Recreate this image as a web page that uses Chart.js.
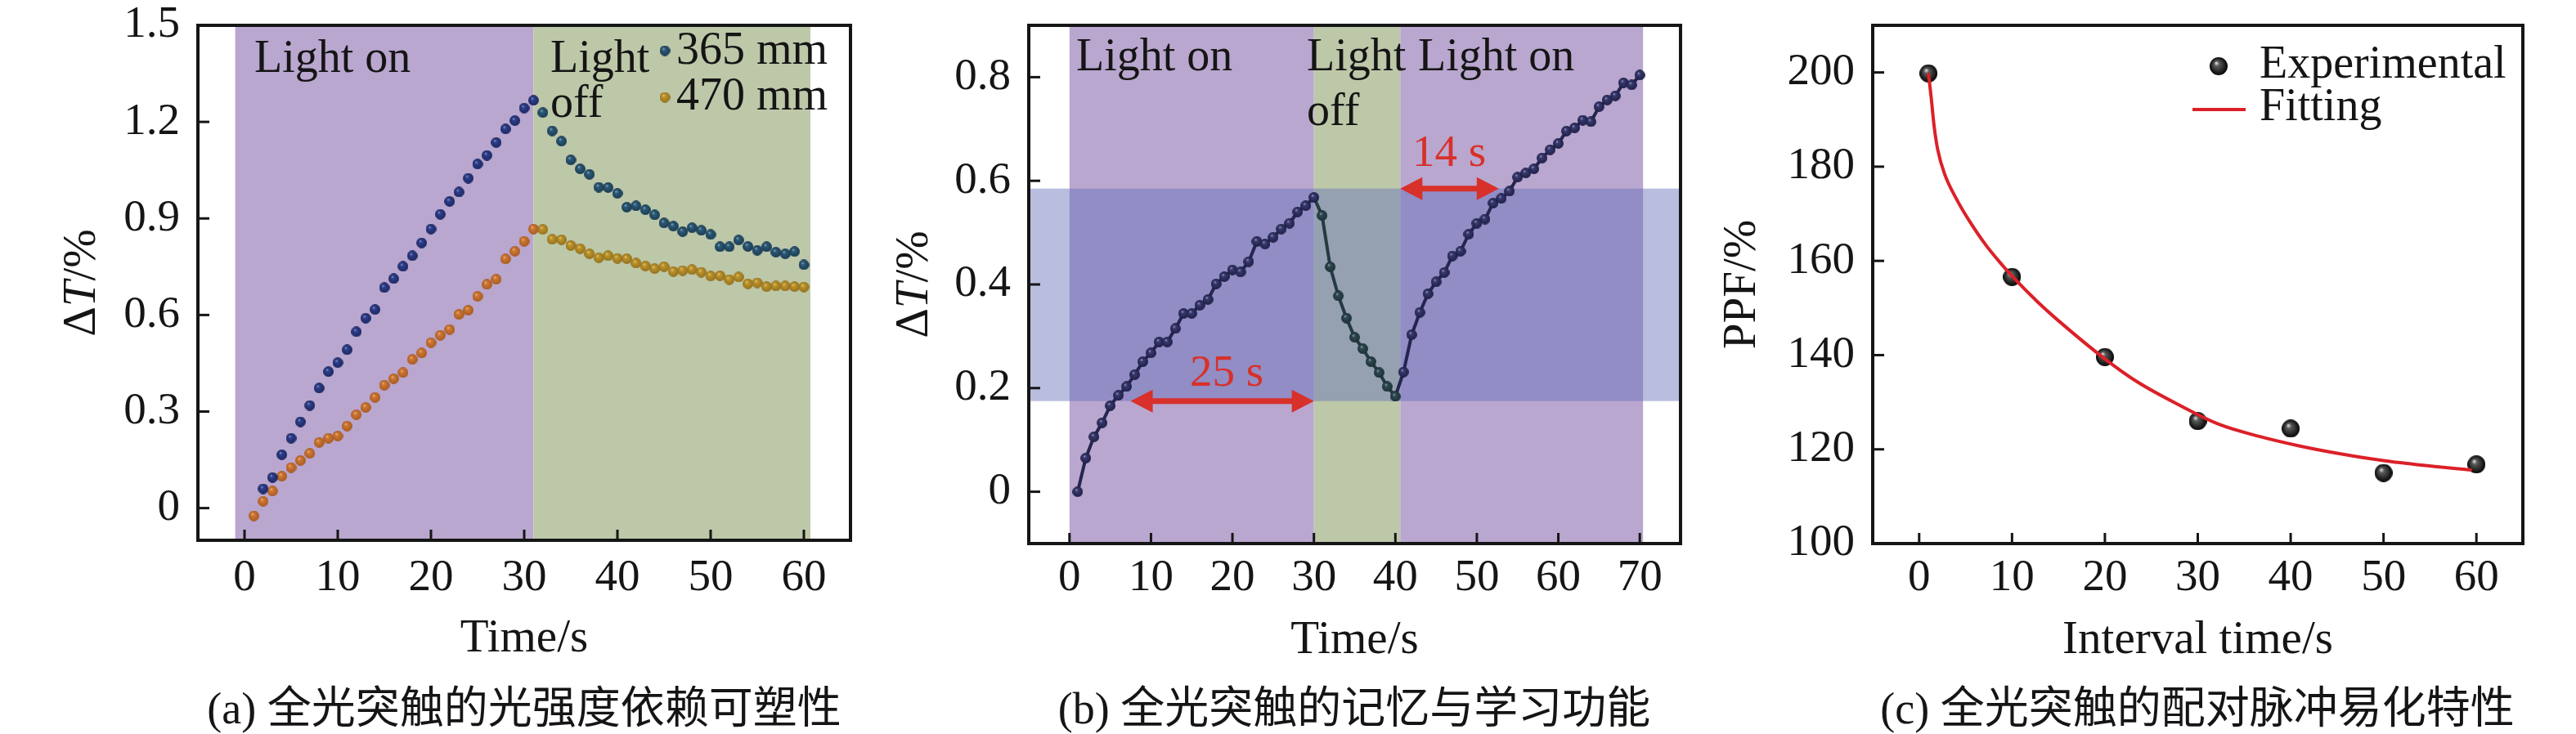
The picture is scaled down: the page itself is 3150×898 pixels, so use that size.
<!DOCTYPE html>
<html>
<head>
<meta charset="utf-8">
<style>
  html, body { margin: 0; padding: 0; background: #fff; }
  #wrap { position: relative; width: 3150px; height: 898px; }
  #wrap canvas { position: absolute; top: 0; }
</style>
<script src="https://cdn.jsdelivr.net/npm/chart.js@4.4.1/dist/chart.umd.min.js"></script>
</head>
<body>
<div id="wrap">
  <canvas id="chartA" width="1050" height="898" style="left:0px"></canvas>
  <canvas id="chartB" width="1050" height="898" style="left:1050px"></canvas>
  <canvas id="chartC" width="1050" height="898" style="left:2100px"></canvas>
</div>
<script>
// ---- panel (a): light intensity dependent plasticity ----
const time365 = [2, 3, 4, 5, 6, 7, 8, 9, 10, 11, 12, 13, 14, 15, 16, 17, 18, 19, 20, 21,
  22, 23, 24, 25, 26, 27, 28, 29, 30, 31, 32, 33, 34, 35, 36, 37, 38, 39, 40, 41,
  42, 43, 44, 45, 46, 47, 48, 49, 50, 51, 52, 53, 54, 55, 56, 57, 58, 59, 60];
const dT365 = [0.06, 0.095, 0.166, 0.217, 0.268, 0.319, 0.373, 0.424, 0.452, 0.492,
  0.548, 0.590, 0.617, 0.685, 0.713, 0.751, 0.784, 0.824, 0.867, 0.913,
  0.953, 0.982, 1.025, 1.069, 1.096, 1.136, 1.178, 1.204, 1.243, 1.267,
  1.229, 1.172, 1.140, 1.082, 1.054, 1.037, 0.997, 0.996, 0.978, 0.935,
  0.939, 0.927, 0.911, 0.886, 0.876, 0.859, 0.871, 0.863, 0.850, 0.812,
  0.812, 0.833, 0.813, 0.801, 0.812, 0.795, 0.790, 0.797, 0.756];
const time470 = [1, 2, 3, 4, 5, 6, 7, 8, 9, 10, 11, 12, 13, 14, 15, 16, 17, 18, 19, 20,
  21, 22, 23, 24, 25, 26, 27, 28, 29, 30, 31, 32, 33, 34, 35, 36, 37, 38, 39, 40,
  41, 42, 43, 44, 45, 46, 47, 48, 49, 50, 51, 52, 53, 54, 55, 56, 57, 58, 59, 60];
const dT470 = [-0.024, 0.021, 0.053, 0.099, 0.126, 0.148, 0.170, 0.204, 0.217, 0.224,
  0.255, 0.290, 0.313, 0.344, 0.382, 0.402, 0.421, 0.462, 0.482, 0.514,
  0.537, 0.555, 0.602, 0.615, 0.658, 0.695, 0.711, 0.774, 0.798, 0.829,
  0.867, 0.866, 0.835, 0.834, 0.816, 0.806, 0.790, 0.778, 0.784, 0.776,
  0.775, 0.761, 0.752, 0.744, 0.750, 0.735, 0.738, 0.741, 0.733, 0.721,
  0.722, 0.710, 0.718, 0.697, 0.700, 0.688, 0.690, 0.690, 0.688, 0.687];
const xTicksA = [0, 10, 20, 30, 40, 50, 60];
const yTicksA = [0, 0.3, 0.6, 0.9, 1.2, 1.5];

// ---- panel (b): memory and learning ----
const timeB = [1, 2, 3, 4, 5, 6, 7, 8, 9, 10, 11, 12, 13, 14, 15, 16, 17, 18, 19, 20,
  21, 22, 23, 24, 25, 26, 27, 28, 29, 30, 31, 32, 33, 34, 35, 36, 37, 38, 39, 40,
  41, 42, 43, 44, 45, 46, 47, 48, 49, 50, 51, 52, 53, 54, 55, 56, 57, 58, 59, 60,
  61, 62, 63, 64, 65, 66, 67, 68, 69, 70];
const dTB = [0.0, 0.065, 0.106, 0.133, 0.166, 0.186, 0.203, 0.226, 0.251, 0.268,
  0.289, 0.289, 0.315, 0.344, 0.344, 0.360, 0.371, 0.401, 0.415, 0.428,
  0.424, 0.444, 0.483, 0.478, 0.491, 0.507, 0.518, 0.540, 0.552, 0.568,
  0.533, 0.434, 0.378, 0.335, 0.298, 0.276, 0.251, 0.230, 0.203, 0.184,
  0.231, 0.303, 0.346, 0.382, 0.405, 0.423, 0.455, 0.464, 0.497, 0.518,
  0.526, 0.557, 0.566, 0.580, 0.607, 0.615, 0.623, 0.644, 0.660, 0.672,
  0.696, 0.702, 0.717, 0.714, 0.743, 0.756, 0.764, 0.789, 0.785, 0.804];
const xTicksB = [0, 10, 20, 30, 40, 50, 60, 70];
const yTicksB = [0, 0.2, 0.4, 0.6, 0.8];

// ---- panel (c): paired pulse facilitation ----
const intervalC = [1, 10, 20, 30, 40, 50, 60];
const ppfC = [199.8, 156.6, 139.6, 126.0, 124.4, 115.0, 116.8];
const fitX = [1, 1.3, 1.6, 2, 2.75, 4, 5.4, 7.2, 9, 10, 12.7, 15, 20, 23.5, 28, 32.3,
  36.7, 41, 45.5, 50, 54.3, 59.5];
const fitY = [199.8, 194.6, 188.8, 183.6, 178.4, 173.2, 168.5, 163.3, 159.0, 156.8,
  151.4, 147.3, 139.2, 134.3, 129.4, 125.3, 122.7, 120.7, 119.0, 117.6, 116.6, 115.6];
const xTicksC = [0, 10, 20, 30, 40, 50, 60];
const yTicksC = [100, 120, 140, 160, 180, 200];

const FONT = "'Liberation Serif', 'Times New Roman', 'Noto Sans CJK SC', serif";
const INK = '#151515';
const PURPLE = '#b9a7cf';
const GREEN = '#bdc8a9';
const RED = '#d8302a';

function pairs(xs, ys) {
  return xs.map((x, i) => ({ x: x, y: ys[i] }));
}

// small shaded sphere used as marker
function ball(r, hi, mid, edge) {
  const cv = document.createElement('canvas');
  const s = Math.ceil(r * 2);
  cv.width = s;
  cv.height = s;
  const g = cv.getContext('2d');
  const grd = g.createRadialGradient(r * 0.72, r * 0.62, 0, r, r, r);
  grd.addColorStop(0, hi);
  grd.addColorStop(0.28, mid);
  grd.addColorStop(1, edge);
  g.fillStyle = grd;
  g.beginPath();
  g.arc(r, r, r, 0, Math.PI * 2);
  g.fill();
  return cv;
}

const ballNavy = ball(6.5, '#9aa3d6', '#2f3f8c', '#1c2760');
const ballTeal = ball(6.5, '#9bbccc', '#2d5b78', '#1b3b52');
const ballOrange = ball(6.5, '#efbd8e', '#cf7934', '#a85a22');
const ballGold = ball(6.5, '#e6d08a', '#bf952c', '#93701c');
const ballDark = ball(6.5, '#a9a9d4', '#393a70', '#1e1f45');
const ballSlate = ball(6.5, '#9fb4bb', '#2f4a55', '#1c2f36');
const ballBlack = ball(11, '#f2f2f2', '#5a5a5a', '#050505');

function axisX(min, max, ticks, title, height, pad, titlePad) {
  return {
    type: 'linear', min: min, max: max,
    grid: { display: false, drawTicks: false },
    border: { display: false },
    afterBuildTicks: s => { s.ticks = ticks.map(v => ({ value: v })); },
    afterFit: s => { s.height = height; s.paddingLeft = 0; s.paddingRight = 0; },
    ticks: { font: { family: FONT, size: 55 }, color: INK, padding: pad,
      maxRotation: 0, autoSkip: false, callback: v => String(v) },
    title: { display: true, text: title, color: INK,
      font: { family: FONT, size: 57 }, padding: { top: 0, bottom: titlePad } }
  };
}

function axisY(min, max, ticks, width) {
  return {
    type: 'linear', min: min, max: max,
    grid: { display: false, drawTicks: false },
    border: { display: false },
    afterBuildTicks: s => { s.ticks = ticks.map(v => ({ value: v })); },
    afterFit: s => { s.width = width; s.paddingTop = 0; s.paddingBottom = 0; },
    ticks: { font: { family: FONT, size: 55 }, color: INK, padding: 22,
      autoSkip: false, callback: v => String(v) }
  };
}

function drawArrow(ctx, x0, x1, y) {
  const hl = 27, hw = 14;
  ctx.strokeStyle = RED;
  ctx.fillStyle = RED;
  ctx.lineWidth = 7;
  ctx.beginPath();
  ctx.moveTo(x0 + hl - 2, y);
  ctx.lineTo(x1 - hl + 2, y);
  ctx.stroke();
  ctx.beginPath();
  ctx.moveTo(x0, y); ctx.lineTo(x0 + hl, y - hw); ctx.lineTo(x0 + hl, y + hw); ctx.closePath();
  ctx.fill();
  ctx.beginPath();
  ctx.moveTo(x1, y); ctx.lineTo(x1 - hl, y - hw); ctx.lineTo(x1 - hl, y + hw); ctx.closePath();
  ctx.fill();
}

function decor(cfg) {
  return {
    id: 'decor',
    beforeDatasetsDraw(chart) {
      const { ctx, chartArea: a, scales: { x, y } } = chart;
      ctx.save();
      (cfg.shades || []).forEach(s => {
        const x0 = x.getPixelForValue(s.from), x1 = x.getPixelForValue(s.to);
        ctx.fillStyle = s.color;
        ctx.fillRect(x0, a.top, x1 - x0, a.bottom - a.top);
      });
      if (cfg.band) {
        const y0 = y.getPixelForValue(cfg.band.hi), y1 = y.getPixelForValue(cfg.band.lo);
        ctx.fillStyle = cfg.band.color;
        ctx.fillRect(a.left, y0, a.right - a.left, y1 - y0);
      }
      ctx.restore();
    },
    afterDatasetsDraw(chart) {
      const { ctx, chartArea: a, scales: { x, y } } = chart;
      ctx.save();
      // inward ticks
      ctx.strokeStyle = INK;
      ctx.lineWidth = 3;
      cfg.xTicks.forEach(v => {
        const px = x.getPixelForValue(v);
        ctx.beginPath(); ctx.moveTo(px, a.bottom); ctx.lineTo(px, a.bottom - 13); ctx.stroke();
      });
      cfg.yTicks.forEach(v => {
        const py = y.getPixelForValue(v);
        ctx.beginPath(); ctx.moveTo(a.left, py); ctx.lineTo(a.left + 14, py); ctx.stroke();
      });
      // frame
      ctx.lineWidth = 4;
      ctx.strokeRect(a.left, a.top, a.right - a.left, a.bottom - a.top);
      // arrows
      (cfg.arrows || []).forEach(ar => {
        drawArrow(ctx, x.getPixelForValue(ar.from), x.getPixelForValue(ar.to), y.getPixelForValue(ar.y));
      });
      // labels
      ctx.textBaseline = 'alphabetic';
      (cfg.texts || []).forEach(t => {
        ctx.font = (t.size || 56) + 'px ' + FONT;
        ctx.fillStyle = t.color || INK;
        ctx.textAlign = t.align || 'left';
        ctx.fillText(t.text, t.x, t.y);
      });
      (cfg.marks || []).forEach(m => {
        if (m.img) {
          ctx.drawImage(m.img, m.x - m.img.width / 2, m.y - m.img.height / 2);
        } else {
          ctx.strokeStyle = m.color;
          ctx.lineWidth = 4;
          ctx.beginPath(); ctx.moveTo(m.x, m.y); ctx.lineTo(m.x2, m.y); ctx.stroke();
        }
      });
      ctx.restore();
    },
    afterDraw(chart) {
      const ctx = chart.ctx;
      ctx.save();
      // rotated y title built from styled pieces
      ctx.translate(cfg.yTitle.x, cfg.yTitle.y);
      ctx.rotate(-Math.PI / 2);
      ctx.textBaseline = 'middle';
      ctx.textAlign = 'left';
      ctx.fillStyle = INK;
      const parts = cfg.yTitle.parts;
      let total = 0;
      parts.forEach(p => { ctx.font = p.style + ' 57px ' + FONT; p.w = ctx.measureText(p.text).width; total += p.w; });
      let cx = -total / 2;
      parts.forEach(p => { ctx.font = p.style + ' 57px ' + FONT; ctx.fillText(p.text, cx, 0); cx += p.w; });
      ctx.restore();
      // caption
      ctx.save();
      ctx.font = '54px ' + FONT;
      ctx.fillStyle = INK;
      ctx.textAlign = 'center';
      ctx.textBaseline = 'middle';
      ctx.fillText(cfg.caption.text, cfg.caption.x, cfg.caption.y);
      ctx.restore();
    }
  };
}

const common = {
  responsive: false,
  animation: false,
  devicePixelRatio: 1,
  plugins: { legend: { display: false }, tooltip: { enabled: false } }
};

// ---------- chart (a) ----------
new Chart(document.getElementById('chartA'), {
  type: 'scatter',
  data: {
    datasets: [
      {
        label: '365 mm',
        data: pairs(time365, dT365),
        pointRadius: 6.5,
        pointStyle: c => (c.raw && c.raw.x > 31 ? ballTeal : ballNavy)
      },
      {
        label: '470 mm',
        data: pairs(time470, dT470),
        pointRadius: 6.5,
        pointStyle: c => (c.raw && c.raw.x > 31 ? ballGold : ballOrange)
      }
    ]
  },
  options: Object.assign({}, common, {
    layout: { padding: { left: 0, right: 10, top: 31, bottom: 0 } },
    scales: {
      x: axisX(-5, 65, xTicksA, 'Time/s', 237, 14, 82),
      y: axisY(-0.1, 1.5, yTicksA, 242)
    }
  }),
  plugins: [decor({
    shades: [{ from: -1, to: 31, color: PURPLE }, { from: 31, to: 60.7, color: GREEN }],
    xTicks: xTicksA,
    yTicks: yTicksA,
    texts: [
      { text: 'Light on', x: 311, y: 88 },
      { text: 'Light', x: 673, y: 88 },
      { text: 'off', x: 673, y: 143 },
      { text: '365 mm', x: 827, y: 78 },
      { text: '470 mm', x: 827, y: 134 }
    ],
    marks: [{ img: ballTeal, x: 813, y: 62 }, { img: ballGold, x: 813, y: 119 }],
    yTitle: { x: 101, y: 346, parts: [{ text: 'Δ', style: 'normal' }, { text: 'T', style: 'italic' }, { text: '/%', style: 'normal' }] },
    caption: { text: '(a) 全光突触的光强度依赖可塑性', x: 641, y: 871 }
  })]
});

// ---------- chart (b) ----------
new Chart(document.getElementById('chartB'), {
  type: 'line',
  data: {
    datasets: [{
      label: 'ΔT',
      data: pairs(timeB, dTB),
      borderColor: '#25264f',
      borderWidth: 4,
      tension: 0,
      pointRadius: 6.5,
      pointStyle: c => (c.raw && c.raw.x > 30 && c.raw.x < 40.6 ? ballSlate : ballDark),
      segment: {
        borderColor: c => (c.p0.parsed.x >= 30 && c.p1.parsed.x <= 40 ? '#253a42' : '#25264f')
      }
    }]
  },
  options: Object.assign({}, common, {
    layout: { padding: { left: 0, right: 45, top: 31, bottom: 0 } },
    scales: {
      x: axisX(-5, 75, xTicksB, 'Time/s', 233, 10, 80),
      y: axisY(-0.1, 0.9, yTicksB, 208)
    }
  }),
  plugins: [decor({
    shades: [
      { from: 0, to: 30, color: PURPLE },
      { from: 30, to: 40.6, color: GREEN },
      { from: 40.6, to: 70.4, color: PURPLE }
    ],
    band: { lo: 0.175, hi: 0.585, color: 'rgba(100,110,185,0.45)' },
    arrows: [{ from: 7.5, to: 30, y: 0.175 }, { from: 40.6, to: 52.7, y: 0.585 }],
    xTicks: xTicksB,
    yTicks: yTicksB,
    texts: [
      { text: 'Light on', x: 266, y: 86 },
      { text: 'Light', x: 548, y: 86 },
      { text: 'off', x: 548, y: 153 },
      { text: 'Light on', x: 684, y: 86 },
      { text: '25 s', x: 450, y: 472, align: 'center', color: RED, size: 55 },
      { text: '14 s', x: 722, y: 203, align: 'center', color: RED, size: 55 }
    ],
    yTitle: { x: 69, y: 348, parts: [{ text: 'Δ', style: 'normal' }, { text: 'T', style: 'italic' }, { text: '/%', style: 'normal' }] },
    caption: { text: '(b) 全光突触的记忆与学习功能', x: 606, y: 871 }
  })]
});

// ---------- chart (c) ----------
new Chart(document.getElementById('chartC'), {
  type: 'scatter',
  data: {
    datasets: [
      {
        type: 'line',
        label: 'Fitting',
        data: pairs(fitX, fitY),
        borderColor: '#dc2028',
        borderWidth: 4,
        pointRadius: 0,
        cubicInterpolationMode: 'monotone',
        fill: false
      },
      {
        label: 'Experimental',
        data: pairs(intervalC, ppfC),
        pointRadius: 11,
        pointStyle: ballBlack
      }
    ]
  },
  options: Object.assign({}, common, {
    layout: { padding: { left: 0, right: 65, top: 31, bottom: 0 } },
    scales: {
      x: axisX(-5, 65, xTicksC, 'Interval time/s', 233, 10, 80),
      y: axisY(100, 210, yTicksC, 190)
    }
  }),
  plugins: [decor({
    xTicks: xTicksC,
    yTicks: yTicksC,
    texts: [
      { text: 'Experimental', x: 663, y: 95 },
      { text: 'Fitting', x: 663, y: 147 }
    ],
    marks: [{ img: ballBlack, x: 613, y: 81 }, { color: '#dc2028', x: 581, x2: 646, y: 134 }],
    yTitle: { x: 31, y: 348, parts: [{ text: 'PPF/%', style: 'normal' }] },
    caption: { text: '(c) 全光突触的配对脉冲易化特性', x: 587, y: 871 }
  })]
});
</script>
</body>
</html>
